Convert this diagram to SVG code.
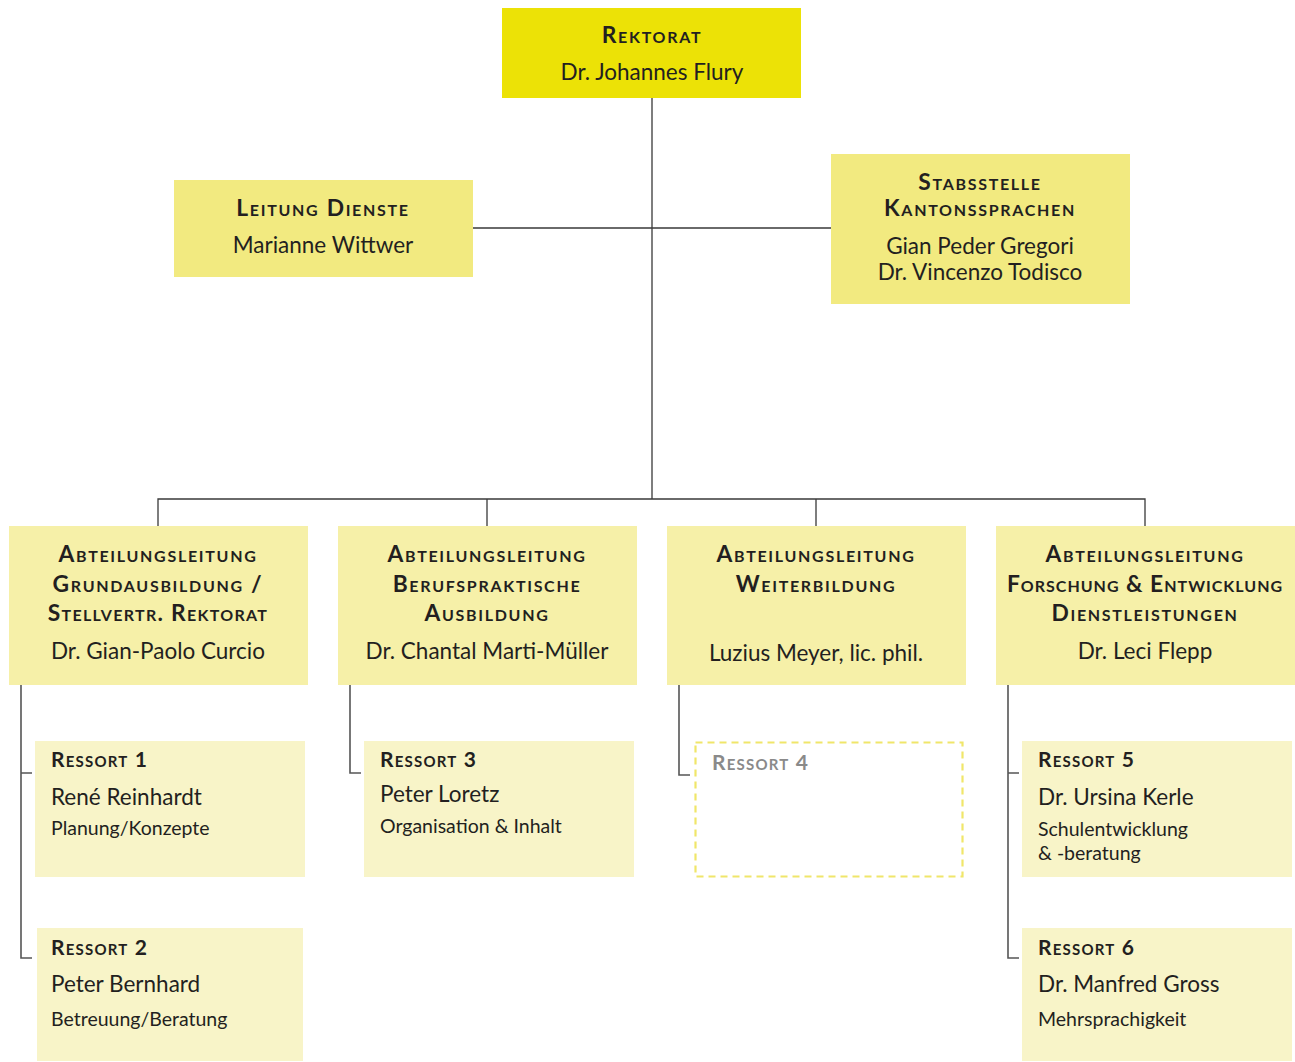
<svg xmlns="http://www.w3.org/2000/svg" width="1295" height="1062" viewBox="0 0 1295 1062">
<style>
.t{font-family:Lato,"Open Sans","Liberation Sans",sans-serif;fill:#231f20;text-anchor:middle}
.h{font-size:22.8px;font-variant:small-caps;font-weight:700;letter-spacing:1.7px}
.r{font-size:21px;font-variant:small-caps;font-weight:700;letter-spacing:1.2px}
.n{font-size:22.5px}
.s{font-size:19.5px}
.l{text-anchor:start}
.ln{stroke:#3a3a3a;stroke-width:1.3;fill:none}
.bl{stroke:#555;stroke-width:1.6;fill:none}
.top{fill:#ece206}
.mid{fill:#f2ea80}
.dep{fill:#f6f0a8}
.res{fill:#f8f4c8}
</style>
<g id="connectors">
<path class="ln" d="M652 98V499M473 228H831M158 526V499H1145V526M487 499V526M816 499V526"/>
<path class="bl" d="M21 685V958H32M21 773H32M350 685V773H361M679 685V775H690M1008 685V958H1019M1008 773H1019"/>
</g>
<g id="rektorat"><rect class="top" x="502" y="8" width="299" height="90"/>
<text class="t h" x="652" y="43">Rektorat</text><text class="t n" x="652" y="80">Dr. Johannes Flury</text></g>
<g id="leitung-dienste"><rect class="mid" x="174" y="180" width="299" height="97"/>
<text class="t h" x="323" y="216">Leitung Dienste</text><text class="t n" x="323" y="253">Marianne Wittwer</text></g>
<g id="stabsstelle"><rect class="mid" x="831" y="154" width="299" height="150"/>
<text class="t h" x="980" y="190">Stabsstelle</text><text class="t h" x="980" y="216">Kantonssprachen</text>
<text class="t n" x="980" y="254">Gian Peder Gregori</text><text class="t n" x="980" y="280">Dr. Vincenzo Todisco</text></g>
<g id="abt1"><rect class="dep" x="9" y="526" width="299" height="159"/>
<text class="t h" x="158" y="562">Abteilungsleitung</text><text class="t h" x="158" y="592">Grundausbildung /</text><text class="t h" x="158" y="621" style="letter-spacing:1.3px">Stellvertr. Rektorat</text>
<text class="t n" x="158" y="659">Dr. Gian-Paolo Curcio</text></g>
<g id="abt2"><rect class="dep" x="338" y="526" width="299" height="159"/>
<text class="t h" x="487" y="562">Abteilungsleitung</text><text class="t h" x="487" y="592">Berufspraktische</text><text class="t h" x="487" y="621">Ausbildung</text>
<text class="t n" x="487" y="659">Dr. Chantal Marti-Müller</text></g>
<g id="abt3"><rect class="dep" x="667" y="526" width="299" height="159"/>
<text class="t h" x="816" y="562">Abteilungsleitung</text><text class="t h" x="816" y="592">Weiterbildung</text>
<text class="t n" x="816" y="661">Luzius Meyer, lic. phil.</text></g>
<g id="abt4"><rect class="dep" x="996" y="526" width="299" height="159"/>
<text class="t h" x="1145" y="562">Abteilungsleitung</text><text class="t h" x="1145" y="592" style="letter-spacing:1.0px">Forschung &amp; Entwicklung</text><text class="t h" x="1145" y="621">Dienstleistungen</text>
<text class="t n" x="1145" y="659">Dr. Leci Flepp</text></g>
<g id="ressort1"><rect class="res" x="35" y="741" width="270" height="136"/>
<text class="t r l" x="51" y="767">Ressort 1</text><text class="t n l" x="51" y="805">René Reinhardt</text><text class="t s l" x="51" y="835">Planung/Konzepte</text></g>
<g id="ressort2"><rect class="res" x="37" y="928" width="266" height="133"/>
<text class="t r l" x="51" y="955">Ressort 2</text><text class="t n l" x="51" y="992">Peter Bernhard</text><text class="t s l" x="51" y="1026">Betreuung/Beratung</text></g>
<g id="ressort3"><rect class="res" x="364" y="741" width="270" height="136"/>
<text class="t r l" x="380" y="767">Ressort 3</text><text class="t n l" x="380" y="802">Peter Loretz</text><text class="t s l" x="380" y="833">Organisation &amp; Inhalt</text></g>
<g id="ressort4"><rect x="695.5" y="742.5" width="267" height="134" fill="none" stroke="#f0e66a" stroke-width="2.2" stroke-dasharray="7,5"/>
<text class="t r l" x="712" y="770" style="fill:#8a8a8a">Ressort 4</text></g>
<g id="ressort5"><rect class="res" x="1022" y="741" width="270" height="136"/>
<text class="t r l" x="1038" y="767">Ressort 5</text><text class="t n l" x="1038" y="805">Dr. Ursina Kerle</text><text class="t s l" x="1038" y="836">Schulentwicklung</text><text class="t s l" x="1038" y="860">&amp; -beratung</text></g>
<g id="ressort6"><rect class="res" x="1022" y="928" width="270" height="133"/>
<text class="t r l" x="1038" y="955">Ressort 6</text><text class="t n l" x="1038" y="992">Dr. Manfred Gross</text><text class="t s l" x="1038" y="1026">Mehrsprachigkeit</text></g>
</svg>
